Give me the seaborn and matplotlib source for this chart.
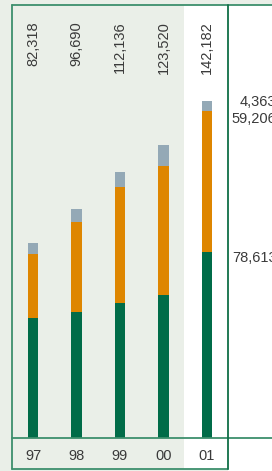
import numpy as np
import pandas as pd
import seaborn as sns
import matplotlib.pyplot as plt
from matplotlib.lines import Line2D
from matplotlib.patches import Rectangle

# data (thousands of units)
years = ['97', '98', '99', '00', '01']
green = [50600, 53200, 57000, 60300, 78613]
orange = [27100, 38000, 48800, 54300, 59206]
grey = [4618, 5490, 6336, 8920, 4363]
totals = [82318, 96690, 112136, 123520, 142182]

c_green = '#006c48'
c_orange = '#de8600'
c_grey = '#94a9b6'
c_bg = '#eaefe8'
c_line = '#3d8f6c'
c_text = '#3a3a3a'

sns.set_style('white')
plt.rcParams['font.family'] = ['Liberation Sans', 'DejaVu Sans']

W, H = 272, 471
fig = plt.figure(figsize=(W / 100, H / 100), dpi=100)
fig.patch.set_facecolor(c_bg)

def fx(px):
    return px / W

def fy(py):
    return 1 - py / H

# white panel and shaded part of the frame (drawn under the axes)
fig.patches.append(Rectangle((fx(12), 0), fx(260), fy(5), transform=fig.transFigure,
                             facecolor='white', edgecolor='none', zorder=-10))
fig.patches.append(Rectangle((fx(12), fy(469)), fx(172), fy(5) - fy(469),
                             transform=fig.transFigure, facecolor=c_bg,
                             edgecolor='none', zorder=-9))
fig.patches.append(Rectangle((fx(12), 0), fx(216), fy(469), transform=fig.transFigure,
                             facecolor=c_bg, edgecolor='none', zorder=-9))

ax = fig.add_axes([fx(12), fy(438), fx(216), fy(5) - fy(438)])
ax.set_facecolor('none')
ax.set_zorder(5)

df = pd.DataFrame({'year': years, 'green': green, 'orange': orange, 'grey': grey})
df['mid'] = df['green'] + df['orange']
df['top'] = df['mid'] + df['grey']

for col, c in [('top', c_grey), ('mid', c_orange), ('green', c_green)]:
    sns.barplot(data=df, x='year', y=col, color=c, width=0.25, saturation=1,
                linewidth=0, ax=ax)

ax.set_xlim(-0.483, 4.483)
ax.set_ylim(0, 182700)
ax.set_xlabel('')
ax.set_ylabel('')
ax.set_yticks([])
ax.tick_params(axis='x', length=0, pad=8, labelsize=10.5, labelcolor=c_text)
for s in ax.spines.values():
    s.set_visible(False)

# totals on top, rotated
for i, t in enumerate(totals):
    ax.text(i, 0.962, f'{t:,}', rotation=90, ha='center', va='top', fontsize=10.5,
            color=c_text, transform=ax.get_xaxis_transform())

# segment values of the last year, to the right of the frame (cut by the edge as in the original)
last = df.iloc[-1]
right_labels = [(last['top'], grey[-1], -1), (last['mid'], orange[-1], -8),
                (last['green'], green[-1], -6)]
for yv, val, off in right_labels:
    ax.annotate(f'{val:,}', xy=(4.483, yv), xytext=(35, off * 0.72), textcoords='offset points',
                ha='right', va='center', fontsize=10.5, color=c_text, annotation_clip=False)

# frame lines
def hline(y, x0, x1, color=c_line, lw=1.3):
    fig.add_artist(Line2D([fx(x0), fx(x1)], [fy(y), fy(y)], color=color, lw=lw,
                          transform=fig.transFigure, zorder=10))

def vline(x, y0, y1, color=c_line, lw=1.3):
    fig.add_artist(Line2D([fx(x), fx(x)], [fy(y0), fy(y1)], color=color, lw=lw,
                          transform=fig.transFigure, zorder=10))

hline(5, 12, 272)
hline(438, 12, 272)
hline(469, 12, 228)
vline(12, 5, 469)
vline(228, 5, 469, color='#0f6e46')

fig.savefig('out.png', dpi=100, facecolor=fig.get_facecolor())
